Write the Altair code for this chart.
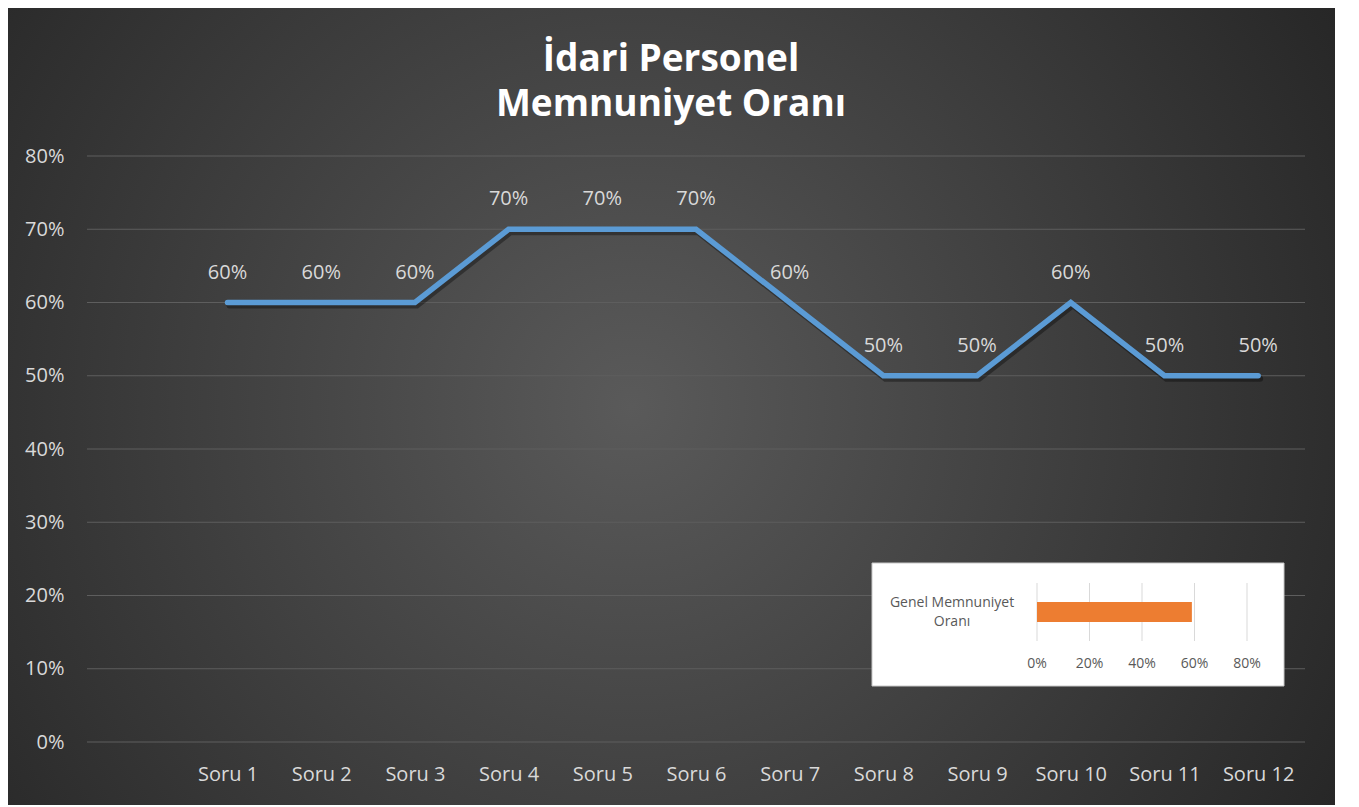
import altair as alt
import pandas as pd

# ---- data ----
questions = ["Soru 1", "Soru 2", "Soru 3", "Soru 4", "Soru 5", "Soru 6",
             "Soru 7", "Soru 8", "Soru 9", "Soru 10", "Soru 11", "Soru 12"]
values = [0.60, 0.60, 0.60, 0.70, 0.70, 0.70, 0.60, 0.50, 0.50, 0.60, 0.50, 0.50]
y_ticks = [0.0, 0.1, 0.2, 0.3, 0.4, 0.5, 0.6, 0.7, 0.8]
title_line1 = "İdari Personel"
title_line2 = "Memnuniyet Oranı"
overall_label = "Genel Memnuniyet\nOranı"
overall_value = [0.59]
inset_ticks = [0.0, 0.2, 0.4, 0.6, 0.8]

W, H = 1218, 586
PL, PT, PR, PB = 79, 148, 30, 63
FONT = "Open Sans"
LABEL = "#d9d9d9"

df = pd.DataFrame({"soru": questions, "oran": values})
df_y = pd.DataFrame({"t": y_ticks})
df_one = pd.DataFrame({"a": [0]})
df_t1 = pd.DataFrame({"txt": [title_line1]})
df_t2 = pd.DataFrame({"txt": [title_line2]})
df_inset = pd.DataFrame({"v": overall_value})
df_itick = pd.DataFrame({"t": inset_ticks})
df_ilabel = pd.DataFrame({"txt": [overall_label]})

xdomain = [" "] + questions
def xscale():
    return alt.Scale(domain=xdomain, type="point", padding=0.5)
yscale = alt.Scale(domain=[0, 0.8])
yaxis = alt.Axis(values=y_ticks, format=".0%", grid=False, ticks=False, domain=False,
                 labelPadding=23, labelColor=LABEL, labelFont=FONT, labelFontSize=20,
                 title=None, zindex=1)
inset_scale = alt.Scale(domain=[0, 0.8], range=[950, 1160])

gradient = {
    "gradient": "radial",
    "x1": 0.47, "y1": 0.5, "r1": 0,
    "x2": 0.47, "y2": 0.5, "r2": 0.62,
    "stops": [
        {"offset": 0, "color": "#5a5a5a"},
        {"offset": 1, "color": "#262626"},
    ],
}

bg = alt.Chart(df_one).mark_rect(color=gradient).encode(
    x=alt.value(-PL), x2=alt.value(W + PR), y=alt.value(-PT), y2=alt.value(H + PB)
)

def title_text(d, ypos):
    return alt.Chart(d).mark_text(
        color="white", font=FONT, fontSize=37, fontWeight="bold",
        align="center", baseline="alphabetic"
    ).encode(x=alt.value(584), y=alt.value(ypos), text="txt:N")

t1 = title_text(df_t1, -85)
t2 = title_text(df_t2, -40)

grid = alt.Chart(df_y).mark_rule(color="#5e5e5e", strokeWidth=1).encode(
    y=alt.Y("t:Q", scale=yscale, axis=yaxis),
    x=alt.value(0), x2=alt.value(W),
)

shadow = alt.Chart(df).mark_line(color="black", opacity=0.35, strokeWidth=6,
                                  xOffset=2, yOffset=3, strokeCap="round").encode(
    x=alt.X("soru:N", scale=xscale(), sort=xdomain, axis=None),
    y=alt.Y("oran:Q", scale=yscale, axis=yaxis),
)

line = alt.Chart(df).mark_line(color="#5B9BD5", strokeWidth=5.5, strokeCap="round").encode(
    x=alt.X("soru:N", scale=xscale(), sort=xdomain,
            axis=alt.Axis(title=None, ticks=False, domain=False, grid=False, labelAngle=0,
                          labelPadding=22, labelColor=LABEL, labelFont=FONT,
                          labelFontSize=20, zindex=1, labelOverlap=False)),
    y=alt.Y("oran:Q", scale=yscale, axis=yaxis),
)

labels = alt.Chart(df).mark_text(color=LABEL, font=FONT, fontSize=20, dy=-24,
                                 baseline="alphabetic").encode(
    x=alt.X("soru:N", scale=xscale(), sort=xdomain, axis=None),
    y=alt.Y("oran:Q", scale=yscale, axis=yaxis),
    text=alt.Text("oran:Q", format=".0%"),
)

box = alt.Chart(df_one).mark_rect(fill="white", stroke="#c8c8c8", strokeWidth=1).encode(
    x=alt.value(785), x2=alt.value(1197), y=alt.value(407), y2=alt.value(530)
)

igrid = alt.Chart(df_itick).mark_rule(color="#d9d9d9", strokeWidth=1).encode(
    x=alt.X("t:Q", scale=inset_scale, axis=None),
    y=alt.value(427), y2=alt.value(485),
)

ibar = alt.Chart(df_inset).mark_rect(color="#ED7D31").encode(
    x=alt.X("v:Q", scale=inset_scale, axis=None),
    x2=alt.datum(0),
    y=alt.value(446), y2=alt.value(466),
)

iticks = alt.Chart(df_itick).mark_text(color="#595959", font=FONT, fontSize=14,
                                       baseline="middle").encode(
    x=alt.X("t:Q", scale=inset_scale, axis=None),
    y=alt.value(508),
    text=alt.Text("t:Q", format=".0%"),
)

ilabel = alt.Chart(df_ilabel).mark_text(color="#595959", font=FONT, fontSize=14,
                                        lineBreak="\n", lineHeight=19, baseline="middle",
                                        align="center").encode(
    x=alt.value(865), y=alt.value(447), text="txt:N",
)

chart = alt.layer(
    bg, t1, t2, grid, shadow, line, labels, box, igrid, ibar, iticks, ilabel
).resolve_scale(x="independent").properties(
    width=W, height=H,
    autosize="none",
    padding={"left": PL, "top": PT, "right": PR, "bottom": PB},
).configure_view(stroke=None).configure(background="#262626")

chart.save("out.html", embed_options={"renderer": "svg", "actions": False})
